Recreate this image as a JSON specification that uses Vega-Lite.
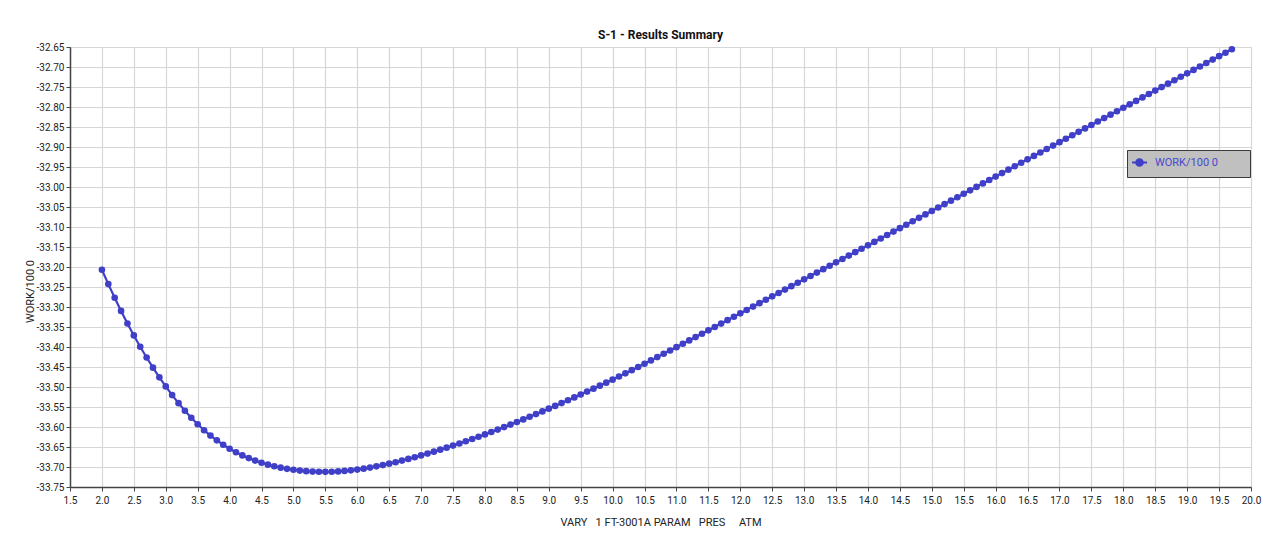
{
  "$schema": "https://vega.github.io/schema/vega-lite/v6.json",
  "width": 1181,
  "height": 440,
  "autosize": {"type": "none"},
  "padding": {"left": 70, "top": 47, "right": 20, "bottom": 59},
  "background": "white",
  "title": {"text": "S-1 - Results Summary", "font": "Roboto", "fontSize": 12, "fontWeight": "bold", "color": "#111111", "offset": 0, "anchor": "middle"},
  "data": {"values": [
    {"x": 2.0, "w": -33.2070}, {"x": 2.1, "w": -33.2428}, {"x": 2.2, "w": -33.2770}, {"x": 2.3, "w": -33.3098}, {"x": 2.4, "w": -33.3412},
    {"x": 2.5, "w": -33.3710}, {"x": 2.6, "w": -33.3994}, {"x": 2.7, "w": -33.4262}, {"x": 2.8, "w": -33.4516}, {"x": 2.9, "w": -33.4758},
    {"x": 3.0, "w": -33.4986}, {"x": 3.1, "w": -33.5202}, {"x": 3.2, "w": -33.5404}, {"x": 3.3, "w": -33.5594}, {"x": 3.4, "w": -33.5770},
    {"x": 3.5, "w": -33.5932}, {"x": 3.6, "w": -33.6080}, {"x": 3.7, "w": -33.6214}, {"x": 3.8, "w": -33.6334}, {"x": 3.9, "w": -33.6444},
    {"x": 4.0, "w": -33.6543}, {"x": 4.1, "w": -33.6632}, {"x": 4.2, "w": -33.6710}, {"x": 4.3, "w": -33.6778}, {"x": 4.4, "w": -33.6840},
    {"x": 4.5, "w": -33.6894}, {"x": 4.6, "w": -33.6942}, {"x": 4.7, "w": -33.6982}, {"x": 4.8, "w": -33.7016}, {"x": 4.9, "w": -33.7046},
    {"x": 5.0, "w": -33.7070}, {"x": 5.1, "w": -33.7090}, {"x": 5.2, "w": -33.7104}, {"x": 5.3, "w": -33.7114}, {"x": 5.4, "w": -33.7120},
    {"x": 5.5, "w": -33.7121}, {"x": 5.6, "w": -33.7118}, {"x": 5.7, "w": -33.7110}, {"x": 5.8, "w": -33.7098}, {"x": 5.9, "w": -33.7083},
    {"x": 6.0, "w": -33.7064}, {"x": 6.1, "w": -33.7041}, {"x": 6.2, "w": -33.7014}, {"x": 6.3, "w": -33.6984}, {"x": 6.4, "w": -33.6952},
    {"x": 6.5, "w": -33.6917}, {"x": 6.6, "w": -33.6880}, {"x": 6.7, "w": -33.6840}, {"x": 6.8, "w": -33.6798}, {"x": 6.9, "w": -33.6755},
    {"x": 7.0, "w": -33.6710}, {"x": 7.1, "w": -33.6664}, {"x": 7.2, "w": -33.6616}, {"x": 7.3, "w": -33.6567}, {"x": 7.4, "w": -33.6517},
    {"x": 7.5, "w": -33.6465}, {"x": 7.6, "w": -33.6412}, {"x": 7.7, "w": -33.6357}, {"x": 7.8, "w": -33.6301}, {"x": 7.9, "w": -33.6244},
    {"x": 8.0, "w": -33.6186}, {"x": 8.1, "w": -33.6126}, {"x": 8.2, "w": -33.6065}, {"x": 8.3, "w": -33.6003}, {"x": 8.4, "w": -33.5940},
    {"x": 8.5, "w": -33.5876}, {"x": 8.6, "w": -33.5811}, {"x": 8.7, "w": -33.5745}, {"x": 8.8, "w": -33.5678}, {"x": 8.9, "w": -33.5611},
    {"x": 9.0, "w": -33.5542}, {"x": 9.1, "w": -33.5473}, {"x": 9.2, "w": -33.5402}, {"x": 9.3, "w": -33.5331}, {"x": 9.4, "w": -33.5260},
    {"x": 9.5, "w": -33.5188}, {"x": 9.6, "w": -33.5115}, {"x": 9.7, "w": -33.5041}, {"x": 9.8, "w": -33.4967}, {"x": 9.9, "w": -33.4892},
    {"x": 10.0, "w": -33.4816}, {"x": 10.1, "w": -33.4738}, {"x": 10.2, "w": -33.4659}, {"x": 10.3, "w": -33.4579}, {"x": 10.4, "w": -33.4499},
    {"x": 10.5, "w": -33.4418}, {"x": 10.6, "w": -33.4336}, {"x": 10.7, "w": -33.4253}, {"x": 10.8, "w": -33.4170}, {"x": 10.9, "w": -33.4087},
    {"x": 11.0, "w": -33.4004}, {"x": 11.1, "w": -33.3920}, {"x": 11.2, "w": -33.3836}, {"x": 11.3, "w": -33.3752}, {"x": 11.4, "w": -33.3668},
    {"x": 11.5, "w": -33.3584}, {"x": 11.6, "w": -33.3499}, {"x": 11.7, "w": -33.3414}, {"x": 11.8, "w": -33.3329}, {"x": 11.9, "w": -33.3244},
    {"x": 12.0, "w": -33.3159}, {"x": 12.1, "w": -33.3074}, {"x": 12.2, "w": -33.2989}, {"x": 12.3, "w": -33.2904}, {"x": 12.4, "w": -33.2819},
    {"x": 12.5, "w": -33.2734}, {"x": 12.6, "w": -33.2649}, {"x": 12.7, "w": -33.2564}, {"x": 12.8, "w": -33.2479}, {"x": 12.9, "w": -33.2394},
    {"x": 13.0, "w": -33.2309}, {"x": 13.1, "w": -33.2224}, {"x": 13.2, "w": -33.2139}, {"x": 13.3, "w": -33.2054}, {"x": 13.4, "w": -33.1969},
    {"x": 13.5, "w": -33.1884}, {"x": 13.6, "w": -33.1799}, {"x": 13.7, "w": -33.1714}, {"x": 13.8, "w": -33.1629}, {"x": 13.9, "w": -33.1544},
    {"x": 14.0, "w": -33.1459}, {"x": 14.1, "w": -33.1373}, {"x": 14.2, "w": -33.1287}, {"x": 14.3, "w": -33.1201}, {"x": 14.4, "w": -33.1115},
    {"x": 14.5, "w": -33.1029}, {"x": 14.6, "w": -33.0943}, {"x": 14.7, "w": -33.0857}, {"x": 14.8, "w": -33.0771}, {"x": 14.9, "w": -33.0685},
    {"x": 15.0, "w": -33.0599}, {"x": 15.1, "w": -33.0513}, {"x": 15.2, "w": -33.0427}, {"x": 15.3, "w": -33.0341}, {"x": 15.4, "w": -33.0255},
    {"x": 15.5, "w": -33.0169}, {"x": 15.6, "w": -33.0083}, {"x": 15.7, "w": -32.9997}, {"x": 15.8, "w": -32.9911}, {"x": 15.9, "w": -32.9825},
    {"x": 16.0, "w": -32.9739}, {"x": 16.1, "w": -32.9653}, {"x": 16.2, "w": -32.9567}, {"x": 16.3, "w": -32.9481}, {"x": 16.4, "w": -32.9395},
    {"x": 16.5, "w": -32.9309}, {"x": 16.6, "w": -32.9223}, {"x": 16.7, "w": -32.9137}, {"x": 16.8, "w": -32.9051}, {"x": 16.9, "w": -32.8965},
    {"x": 17.0, "w": -32.8879}, {"x": 17.1, "w": -32.8793}, {"x": 17.2, "w": -32.8707}, {"x": 17.3, "w": -32.8621}, {"x": 17.4, "w": -32.8535},
    {"x": 17.5, "w": -32.8449}, {"x": 17.6, "w": -32.8363}, {"x": 17.7, "w": -32.8277}, {"x": 17.8, "w": -32.8191}, {"x": 17.9, "w": -32.8105},
    {"x": 18.0, "w": -32.8019}, {"x": 18.1, "w": -32.7933}, {"x": 18.2, "w": -32.7847}, {"x": 18.3, "w": -32.7761}, {"x": 18.4, "w": -32.7675},
    {"x": 18.5, "w": -32.7589}, {"x": 18.6, "w": -32.7503}, {"x": 18.7, "w": -32.7417}, {"x": 18.8, "w": -32.7331}, {"x": 18.9, "w": -32.7245},
    {"x": 19.0, "w": -32.7159}, {"x": 19.1, "w": -32.7073}, {"x": 19.2, "w": -32.6987}, {"x": 19.3, "w": -32.6901}, {"x": 19.4, "w": -32.6815},
    {"x": 19.5, "w": -32.6729}, {"x": 19.6, "w": -32.6643}, {"x": 19.7, "w": -32.6557}
  ]},
  "mark": {"type": "line", "strokeWidth": 2.2, "point": {"filled": true, "size": 44, "opacity": 1}},
  "encoding": {
    "x": {
      "field": "x", "type": "quantitative",
      "scale": {"domain": [1.5, 20], "nice": false, "zero": false},
      "axis": {
        "values": [1.5, 2, 2.5, 3, 3.5, 4, 4.5, 5, 5.5, 6, 6.5, 7, 7.5, 8, 8.5, 9, 9.5, 10, 10.5, 11, 11.5, 12, 12.5, 13, 13.5, 14, 14.5, 15, 15.5, 16, 16.5, 17, 17.5, 18, 18.5, 19, 19.5, 20],
        "labelExpr": "format(datum.value, '.1f')",
        "labelFlush": false, "labelOverlap": false, "labelBound": false,
        "labelPadding": 4,
        "title": "VARY\u00a0\u00a0\u00a01 FT-3001A PARAM\u00a0\u00a0\u00a0PRES\u00a0\u00a0\u00a0\u00a0\u00a0ATM",
        "titleY": 35, "titleBaseline": "middle"
      }
    },
    "y": {
      "field": "w", "type": "quantitative",
      "scale": {"domain": [-33.75, -32.65], "nice": false, "zero": false},
      "axis": {
        "values": [-33.75, -33.7, -33.65, -33.6, -33.55, -33.5, -33.45, -33.4, -33.35, -33.3, -33.25, -33.2, -33.15, -33.1, -33.05, -33.0, -32.95, -32.9, -32.85, -32.8, -32.75, -32.7, -32.65],
        "labelExpr": "'-' + format(-datum.value, '.2f')",
        "labelOverlap": false, "labelBound": false, "labelFlush": false,
        "labelPadding": 2,
        "title": "WORK/100 0",
        "titleX": -40, "titleY": 244, "titleBaseline": "middle", "titleAlign": "center"
      }
    },
    "color": {
      "datum": "WORK/100 0",
      "scale": {"range": ["#3f3fc8"]},
      "legend": {
        "title": null,
        "orient": "none", "legendX": 1057, "legendY": 103,
        "fillColor": "#c0c0c0", "strokeColor": "#3a3a3a",
        "padding": 7,
        "symbolType": "M-2,0L2,0M-0.9,0A0.9,0.9,0,1,0,0.9,0A0.9,0.9,0,1,0,-0.9,0",
        "symbolSize": 56, "symbolStrokeWidth": 2,
        "labelFont": "Roboto", "labelFontSize": 11, "labelColor": "#4848cc",
        "labelOffset": 10,
        "encode": {
          "symbols": {"update": {"fill": {"value": "#3f3fc8"}, "stroke": {"value": "#3f3fc8"}, "opacity": {"value": 1}}},
          "labels": {"update": {"text": {"signal": "datum.label + '\u00a0\u00a0\u00a0\u00a0\u00a0\u00a0\u00a0\u00a0\u00a0\u200b'"}}}
        }
      }
    }
  },
  "config": {
    "view": {"stroke": null},
    "axis": {
      "grid": true, "gridColor": "#d6d6d6", "gridWidth": 1.2,
      "domainColor": "#444444", "domainWidth": 1.5,
      "tickColor": "#444444", "tickSize": 4,
      "labelFont": "Roboto", "labelFontSize": 10, "labelColor": "#222222",
      "titleFont": "Roboto", "titleFontSize": 11, "titleFontWeight": "normal", "titleColor": "#222222"
    }
  }
}
